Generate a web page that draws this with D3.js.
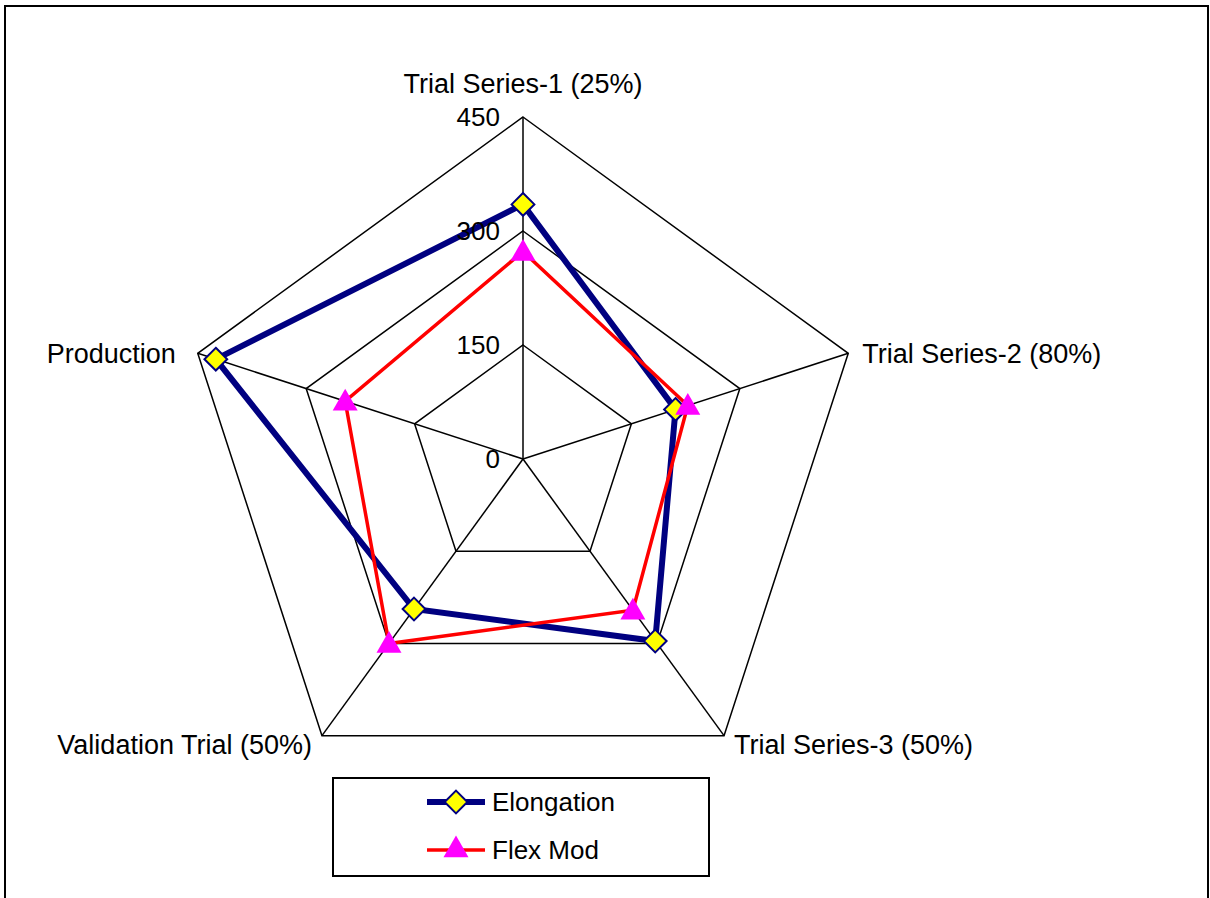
<!DOCTYPE html>
<html><head><meta charset="utf-8">
<script src="https://cdn.jsdelivr.net/npm/d3@7"></script>
<style>body{margin:0;background:#fff}svg{display:block}text{font-family:"Liberation Sans",Arial,sans-serif}</style>
</head><body><svg id="c" width="1210" height="898"></svg>
<script>
const categories = ["Trial Series-1 (25%)", "Trial Series-2 (80%)", "Trial Series-3 (50%)", "Validation Trial (50%)", "Production"];
const elongation = [335, 211, 296, 244, 425];
const flexMod = [273, 228, 246, 300, 246];
const tickValues = [0, 150, 300, 450];
const seriesNames = ["Elongation", "Flex Mod"];

const svg = d3.select("#c");
const cx = 523, cy = 459;
const r = d3.scaleLinear().domain([0, 450]).range([0, 342]);
const ang = d3.scaleLinear().domain([0, categories.length]).range([0, 2 * Math.PI]);
const pt = (i, v) => [cx + r(v) * Math.sin(ang(i)), cy - r(v) * Math.cos(ang(i))];

// outer frame
svg.append("rect").attr("x", 5).attr("y", 6).attr("width", 1203).attr("height", 900)
  .attr("fill", "none").attr("stroke", "#000").attr("stroke-width", 2);

const g = svg.append("g").attr("transform", `translate(${cx},${cy})`);
const radial = d3.lineRadial().angle((d, i) => ang(i)).radius(d => r(d)).curve(d3.curveLinearClosed);

// grid rings
tickValues.filter(t => t > 0).forEach(t => {
  g.append("path").attr("d", radial(categories.map(() => t)))
    .attr("fill", "none").attr("stroke", "#000").attr("stroke-width", 1.5);
});
// spokes
categories.forEach((c, i) => {
  const [x, y] = pt(i, 450);
  svg.append("line").attr("x1", cx).attr("y1", cy).attr("x2", x).attr("y2", y)
    .attr("stroke", "#000").attr("stroke-width", 1.5);
});
// tick labels
tickValues.forEach(t => {
  svg.append("text").attr("x", cx - 23).attr("y", cy - r(t)).attr("dy", "0.36em")
    .attr("text-anchor", "end").attr("font-size", 26).attr("fill", "#000").text(t);
});
// category labels
const labelPos = [
  {dx: 0, dy: -34, anchor: "middle"},
  {dx: 14, dy: 0, anchor: "start"},
  {dx: 10, dy: 9, anchor: "start"},
  {dx: -10, dy: 9, anchor: "end"},
  {dx: -22, dy: 0, anchor: "end"}
];
categories.forEach((c, i) => {
  const [x, y] = pt(i, 450);
  svg.append("text").attr("x", x + labelPos[i].dx).attr("y", y + labelPos[i].dy).attr("dy", "0.36em")
    .attr("text-anchor", labelPos[i].anchor).attr("font-size", 27).attr("fill", "#000").text(c);
});

const diamond = d3.symbol().type(d3.symbolDiamond2).size(330);
const triangle = d3.symbol().type(d3.symbolTriangle).size(270);

// Elongation
g.append("path").attr("d", radial(elongation)).attr("fill", "none")
  .attr("stroke", "#000080").attr("stroke-width", 6).attr("stroke-linejoin", "miter");
// Flex Mod
g.append("path").attr("d", radial(flexMod)).attr("fill", "none")
  .attr("stroke", "#ff0000").attr("stroke-width", 3.5);

elongation.forEach((v, i) => {
  const [x, y] = pt(i, v);
  svg.append("path").attr("d", diamond()).attr("transform", `translate(${x},${y})`)
    .attr("fill", "#ffff00").attr("stroke", "#000080").attr("stroke-width", 2);
});
flexMod.forEach((v, i) => {
  const [x, y] = pt(i, v);
  svg.append("path").attr("d", triangle()).attr("transform", `translate(${x},${y + 2})`)
    .attr("fill", "#ff00ff");
});

// legend
const lg = svg.append("g");
lg.append("rect").attr("x", 333).attr("y", 778).attr("width", 376).attr("height", 98)
  .attr("fill", "#fff").attr("stroke", "#000").attr("stroke-width", 2);
const items = [
  {name: seriesNames[0], y: 802, color: "#000080", w: 6, sym: diamond, fill: "#ffff00", stroke: "#000080"},
  {name: seriesNames[1], y: 850, color: "#ff0000", w: 3.5, sym: triangle, fill: "#ff00ff", stroke: "none"}
];
items.forEach(it => {
  lg.append("line").attr("x1", 427).attr("x2", 485).attr("y1", it.y).attr("y2", it.y)
    .attr("stroke", it.color).attr("stroke-width", it.w);
  lg.append("path").attr("d", it.sym()).attr("transform", `translate(456,${it.y})`)
    .attr("fill", it.fill).attr("stroke", it.stroke).attr("stroke-width", 2);
  lg.append("text").attr("x", 492).attr("y", it.y).attr("dy", "0.36em")
    .attr("font-size", 26).attr("fill", "#000").text(it.name);
});
</script></body></html>
